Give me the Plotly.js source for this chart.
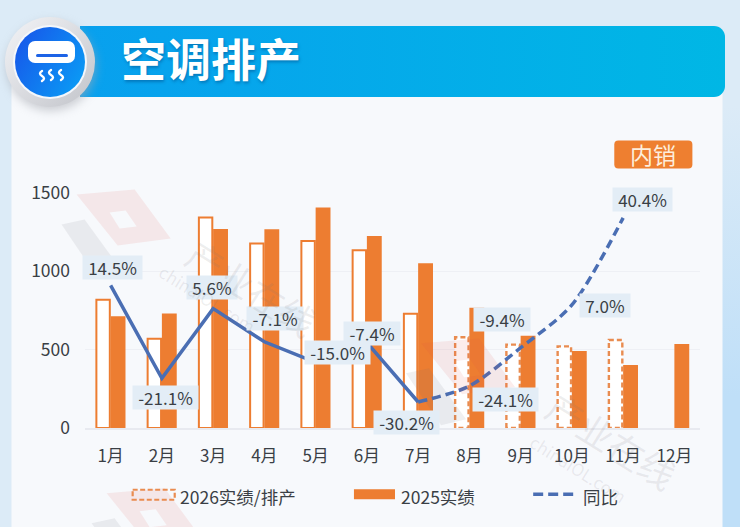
<!DOCTYPE html>
<html>
<head>
<meta charset="utf-8">
<script src="https://cdn.plot.ly/plotly-3.0.1.min.js"></script>
<style>
html,body{margin:0;padding:0;width:740px;height:527px;overflow:hidden;background:#dcebf7}
#bg{position:absolute;left:0;top:0}
#chart{position:absolute;left:0;top:0;width:740px;height:527px}
</style>
</head>
<body>
<svg id="bg" width="740" height="527" xmlns="http://www.w3.org/2000/svg">
  <defs>
    <linearGradient id="banner" x1="0" x2="1" y1="0" y2="0"><stop offset="0" stop-color="#08a0ee"/><stop offset="1" stop-color="#00b7e5"/></linearGradient>
    <linearGradient id="right" x1="0" x2="0" y1="0" y2="1"><stop offset="0.2" stop-color="#dcebf7"/><stop offset="0.75" stop-color="#bfdff8"/></linearGradient>
    <linearGradient id="disc" x1="0" x2="1" y1="0.2" y2="0.8"><stop offset="0" stop-color="#1758ea"/><stop offset="1" stop-color="#0a9cf5"/></linearGradient>
    <linearGradient id="halo" x1="0" x2="1" y1="0" y2="1"><stop offset="0" stop-color="#f3f4f7"/><stop offset="1" stop-color="#c2c4ca"/></linearGradient>
    <filter id="blur" x="-30%" y="-30%" width="160%" height="160%"><feGaussianBlur stdDeviation="5"/></filter>
  </defs>
  <rect x="0" y="0" width="740" height="527" fill="#dcebf7"/>
  <rect x="722" y="0" width="18" height="527" fill="url(#right)"/>
  <rect x="11.5" y="85" width="711" height="442" fill="#f7f9fc"/>
  <path d="M80,26 H714 a11,11 0 0 1 11,11 V86 a11,11 0 0 1 -11,11 H80 Z" fill="url(#banner)"/>
  <circle cx="51" cy="66" r="45" fill="#a8abb2" opacity="0.55" filter="url(#blur)"/>
  <circle cx="50" cy="62" r="45" fill="url(#halo)"/>
  <circle cx="50" cy="62" r="37" fill="#f4f7fb"/>
  <circle cx="50" cy="62" r="35" fill="url(#disc)"/>
  <rect x="28" y="41" width="47" height="22" rx="7" fill="#fff"/>
  <rect x="36" y="54" width="32" height="3" rx="1.5" fill="#1d63e6"/>
  <path d="M42,71 q-4,2.5 0,5 q4,2.5 0,5 M51,70 q-4,2.5 0,5 q4,2.5 0,5 M61,70 q-4,2.5 0,5 q4,2.5 0,5" fill="none" stroke="#fff" stroke-width="2.4" stroke-linecap="round"/>
</svg>
<div id="chart"></div>
<script>
var months = ['1月','2月','3月','4月','5月','6月','7月','8月','9月','10月','11月','12月'];
var values2026 = [819,570,1344,1178,1193,1134,730,579,532,521,562];
var values2025 = [714,731,1271,1269,1408,1225,1052,768,589,491,402,536];
var actualCount = 7;
var yoy = [14.5,-21.1,5.6,-7.1,-15.0,-7.4,-30.2,-24.1,-9.4,7.0,40.4];
var yTicks = [0,500,1000,1500];
var legendNames = ['2026实绩/排产','2025实绩','同比'];
var pageTitle = '空调排产';
var badgeText = '内销';
var orange = '#ed7d31', lineBlue = '#4a6eb3', dashOrange = '#e98c50', textDark = '#3a3f45';
var cjk = '"Noto Sans CJK SC","Noto Sans",sans-serif';

var W = 740, H = 527, L = 85.4, R = 699.6, T = 192.5, B = 427.7;
function px(x){ return (x - L) / (R - L); }
function py(y){ return (B - y) / (B - T); }
var idx = months.map(function(_, i){ return i; });
var w26 = 0.262, o26 = -0.278, w25 = 0.29;

var outlineX = [], outlineY = [];
for (var i = actualCount; i < values2026.length; i++) {
  outlineX.push(i+o26, i+o26, i+o26+w26, i+o26+w26, i+o26, null);
  outlineY.push(0, values2026[i], values2026[i], 0, 0, null);
}
var traces = [
  {type:'bar', name:legendNames[0], x:idx.slice(0, values2026.length), y:values2026, width:w26, offset:o26,
   marker:{color:'#ffffff', line:{color:orange, width:values2026.map(function(_,i){return i<actualCount?2:0;})}}, showlegend:false, hoverinfo:'skip'},
  {type:'bar', name:legendNames[1], x:idx, y:values2025, width:w25, offset:0,
   marker:{color:orange}, showlegend:false, hoverinfo:'skip'},
  {type:'scatter', mode:'lines', x:outlineX, y:outlineY, line:{color:dashOrange, width:2.4, dash:'5px,3px'}, showlegend:false, hoverinfo:'skip'},
  {type:'scatter', mode:'lines', name:legendNames[2], x:idx.slice(0, actualCount), y:yoy.slice(0, actualCount), yaxis:'y2',
   line:{color:lineBlue, width:3.5}, showlegend:false, hoverinfo:'skip'},
  {type:'scatter', mode:'lines', x:idx.slice(actualCount-1), y:yoy.slice(actualCount-1), yaxis:'y2',
   line:{color:lineBlue, width:3.5, dash:'9px,5px', shape:'spline', smoothing:0.8}, showlegend:false, hoverinfo:'skip'}
];

// label offsets from each point, in pixels
var labelShift = [[1.7,18],[3.4,-19.7],[-1.6,21.5],[10.8,23.6],[22.3,10],[5,9.5],[-11.3,-20],[35.8,-13],[-18.7,28.4],[33.5,-1],[19.3,18.5]];
var labelOrder = [0,1,2,3,5,4,6,7,8,9,10];
function labelWidth(s){
  var em = 0;
  s.split('').forEach(function(c){ em += c==='.'?0.278 : c==='%'?0.88 : c==='-'?0.35 : 0.555; });
  return Math.round(em*17 + 9);
}
var annotations = labelOrder.map(function(i){
  var v = yoy[i], s = v.toFixed(1)+'%';
  return {x:i, y:v, xref:'x', yref:'y2', text:s, showarrow:false, width:labelWidth(s), height:21, align:'center', valign:'middle',
    xshift:labelShift[i][0], yshift:labelShift[i][1], bgcolor:'#e3edf6', borderpad:1,
    font:{family:cjk, size:17, color:textDark}};
});
function pageText(x, y, text, size, color, anchor, extra){
  var a = {xref:'paper', yref:'paper', x:px(x), y:py(y), text:text, showarrow:false, xanchor:anchor||'left', yanchor:'middle',
    font:{family:cjk, size:size, color:color}};
  for (var k in (extra||{})) a[k] = extra[k];
  return a;
}
annotations.push(pageText(653, 153.5, badgeText, 23, '#fdeedd', 'center'));
annotations.push(pageText(178, 496, legendNames[0], 17.5, textDark));
annotations.push(pageText(399, 496, legendNames[1], 17.5, textDark));
annotations.push(pageText(581, 496, legendNames[2], 17.5, textDark));
// source watermark
var wm = 'rgba(120,120,125,0.13)';
annotations.push(pageText(252, 287, '产业在线', 36, wm, 'center', {textangle:32}));
annotations.push(pageText(208, 298, 'chinaIOL.com', 17, wm, 'center', {textangle:32}));
annotations.push(pageText(612, 440, '产业在线', 36, wm, 'center', {textangle:32}));
annotations.push(pageText(578, 468, 'chinaIOL.com', 17, wm, 'center', {textangle:32}));

function pagePath(pts){
  return 'M' + pts.map(function(p){ return px(p[0]) + ',' + py(p[1]); }).join(' L') + ' Z';
}
function rectShape(x0, y0, x1, y1, opts){
  var s = {type:'rect', xref:'paper', yref:'paper', x0:px(x0), x1:px(x1), y0:py(y0), y1:py(y1), layer:'above'};
  for (var k in opts) s[k] = opts[k];
  return s;
}
var shapes = [];
[[0,0],[344,149],[30,299]].forEach(function(d){
  function mv(list){ return list.map(function(p){ return [p[0]+d[0], p[1]+d[1]]; }); }
  shapes.push({type:'path', xref:'paper', yref:'paper', layer:'above', line:{width:0}, fillcolor:'rgba(225,80,70,0.10)',
    path: pagePath(mv([[77,194],[135,189],[171,238],[118,245]])) + ' ' + pagePath(mv([[110,212],[126,210],[137,226],[120,228]]))});
  shapes.push({type:'path', xref:'paper', yref:'paper', layer:'above', line:{width:0}, fillcolor:'rgba(110,110,120,0.10)',
    path: pagePath(mv([[62,224],[85,219],[122,270],[97,276]]))});
});
// badge with rounded corners
var bx0=614,bx1=692,by0=140,by1=168,br=4;
shapes.push({type:'path', xref:'paper', yref:'paper', layer:'above', line:{width:0}, fillcolor:'#ee7f30',
  path:'M'+px(bx0+br)+','+py(by0)+' L'+px(bx1-br)+','+py(by0)+' Q'+px(bx1)+','+py(by0)+' '+px(bx1)+','+py(by0+br)+
       ' L'+px(bx1)+','+py(by1-br)+' Q'+px(bx1)+','+py(by1)+' '+px(bx1-br)+','+py(by1)+
       ' L'+px(bx0+br)+','+py(by1)+' Q'+px(bx0)+','+py(by1)+' '+px(bx0)+','+py(by1-br)+
       ' L'+px(bx0)+','+py(by0+br)+' Q'+px(bx0)+','+py(by0)+' '+px(bx0+br)+','+py(by0)+' Z'});
// legend keys
shapes.push(rectShape(133,489.5,175,499.5,{line:{color:dashOrange,width:2.2,dash:'5px,2.5px'},fillcolor:'rgba(0,0,0,0)'}));
shapes.push(rectShape(354,489,395,499,{line:{width:0},fillcolor:orange}));
shapes.push({type:'line', xref:'paper', yref:'paper', layer:'above', x0:px(533), x1:px(574), y0:py(494), y1:py(494),
  line:{color:lineBlue,width:3.5,dash:'10px,5px'}});

var layout = {
  width:W, height:H, autosize:false,
  margin:{l:L, r:W-R, t:T, b:H-B, pad:0},
  paper_bgcolor:'rgba(0,0,0,0)', plot_bgcolor:'rgba(0,0,0,0)',
  showlegend:false, barmode:'overlay',
  title:{text:pageTitle, x:121/W, xanchor:'left', y:1-61/H, yanchor:'middle', xref:'container', yref:'container',
    font:{family:cjk, size:45, color:'#ffffff', weight:700, shadow:'1px 2px 3px rgba(0,70,130,0.45)'}},
  xaxis:{type:'linear', range:[-0.5,11.5], tickmode:'array', tickvals:idx, ticktext:months, ticklen:0, showgrid:false,
    zeroline:false, showline:true, linecolor:'rgba(228,230,236,0.8)', linewidth:2, ticklabelstandoff:12,
    tickfont:{family:cjk, size:17, color:textDark}, fixedrange:true},
  yaxis:{range:[0,1500], tickmode:'array', tickvals:yTicks, ticklen:0, gridcolor:'#eef0f5', gridwidth:1, zeroline:false, showline:false,
    ticklabelstandoff:14, tickfont:{family:cjk, size:17.5, color:textDark}, fixedrange:true},
  yaxis2:{range:[-40.17,49.94], overlaying:'y', side:'right', visible:false, showgrid:false, zeroline:false, fixedrange:true},
  annotations:annotations, shapes:shapes
};
Plotly.newPlot('chart', traces, layout, {displayModeBar:false, staticPlot:true});
</script>
</body>
</html>
